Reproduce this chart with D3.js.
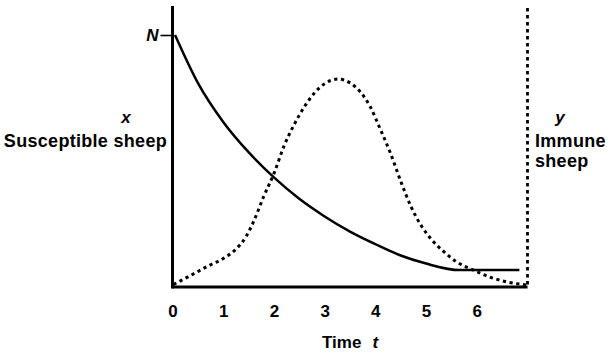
<!DOCTYPE html>
<html>
<head>
<meta charset="utf-8">
<script src="https://cdn.jsdelivr.net/npm/d3@7"></script>
<style>
  html, body { margin: 0; padding: 0; background: #fff; }
  svg { display: block; }
  text { font-family: "Liberation Sans", Arial, Helvetica, sans-serif; fill: #000; }
</style>
</head>
<body>
<svg id="chart" width="611" height="354"></svg>
<script>
// Time ticks shown on the horizontal axis
const timeTicks = [0, 1, 2, 3, 4, 5, 6];

// Susceptible sheep x(t), as a fraction of the flock size N
const susceptibleT = [0.05, 0.5, 1.0, 1.5, 2.0, 2.5, 3.0, 3.5, 4.0, 4.5, 5.0, 5.66, 6.84];
const susceptibleV = [1.00, 0.81, 0.655, 0.535, 0.435, 0.35, 0.28, 0.22, 0.17, 0.125, 0.093, 0.067, 0.067];

// Immune sheep y(t), same units
const immuneT = [0.02, 0.35, 0.7, 1.0, 1.25, 1.45, 1.6, 1.8, 2.0, 2.2, 2.4, 2.6, 2.8, 3.0, 3.27, 3.5, 3.7, 3.9, 4.1, 4.3, 4.5, 4.7, 4.9, 5.1, 5.35, 5.6, 5.9, 6.25, 6.6, 6.98];
const immuneV = [0.01, 0.045, 0.083, 0.113, 0.15, 0.2, 0.26, 0.36, 0.45, 0.56, 0.645, 0.715, 0.77, 0.807, 0.825, 0.81, 0.775, 0.715, 0.625, 0.53, 0.42, 0.32, 0.245, 0.19, 0.14, 0.10, 0.07, 0.04, 0.02, 0.008];

const svg = d3.select("#chart");

const x = d3.scaleLinear().domain([0, 7]).range([172.5, 527.5]);
const y = d3.scaleLinear().domain([0, 1]).range([287, 35]);
const yTop = 6;

// Left axis with a single "N" mark
const yAxis = d3.axisLeft(y).tickValues([1]).tickFormat(() => "N").tickSize(12).tickPadding(2);
const gy = svg.append("g").attr("transform", `translate(${x(0)},0)`).call(yAxis);
gy.select(".domain").remove();
gy.selectAll(".tick line").attr("stroke", "#000").attr("stroke-width", 1.6);
gy.selectAll(".tick text").attr("font-size", 17).attr("font-style", "italic").attr("font-weight", "bold");
svg.append("line")
  .attr("x1", x(0)).attr("x2", x(0)).attr("y1", yTop).attr("y2", y(0) + 1.5)
  .attr("stroke", "#000").attr("stroke-width", 3);

// Bottom time axis
const xAxis = d3.axisBottom(x).tickValues(timeTicks).tickFormat(d3.format("d")).tickSize(0).tickPadding(18);
const gx = svg.append("g").attr("transform", `translate(0,${y(0)})`).call(xAxis);
gx.select(".domain").remove();
gx.selectAll(".tick text").attr("font-size", 17).attr("font-weight", "bold");
svg.append("line")
  .attr("x1", x(0)).attr("x2", x(7)).attr("y1", y(0)).attr("y2", y(0))
  .attr("stroke", "#000").attr("stroke-width", 3);

// Right dotted axis for the immune count
svg.append("line")
  .attr("x1", x(7)).attr("x2", x(7)).attr("y1", yTop + 2).attr("y2", y(0))
  .attr("stroke", "#000").attr("stroke-width", 2.8).attr("stroke-dasharray", "3.5,3.5");

const line = d3.line().x(d => x(d[0])).y(d => y(d[1])).curve(d3.curveMonotoneX);

svg.append("path")
  .datum(susceptibleT.map((t, i) => [t, susceptibleV[i]]))
  .attr("d", line)
  .attr("fill", "none").attr("stroke", "#000").attr("stroke-width", 2.5);

svg.append("path")
  .datum(immuneT.map((t, i) => [t, immuneV[i]]))
  .attr("d", line)
  .attr("fill", "none").attr("stroke", "#000").attr("stroke-width", 3)
  .attr("stroke-dasharray", "3.2,3.6");

// Labels
const lab = (tx, ty, s, opts = {}) => svg.append("text")
  .attr("x", tx).attr("y", ty)
  .attr("text-anchor", opts.anchor || "start")
  .attr("font-size", opts.size || 18)
  .attr("font-weight", "bold")
  .attr("font-style", opts.italic ? "italic" : "normal")
  .attr("letter-spacing", opts.italic ? 0 : 0.3)
  .text(s);

lab(126, 123, "x", { italic: true, anchor: "middle", size: 17 });
lab(167, 147, "Susceptible sheep", { anchor: "end" });
lab(560, 123, "y", { italic: true, anchor: "middle", size: 17 });
lab(535, 147, "Immune");
lab(535, 167, "sheep");

const tl = svg.append("text").attr("x", 322).attr("y", 348).attr("font-size", 17).attr("font-weight", "bold");
tl.append("tspan").text("Time");
tl.append("tspan").attr("font-style", "italic").attr("dx", 11).text("t");
</script>
</body>
</html>
